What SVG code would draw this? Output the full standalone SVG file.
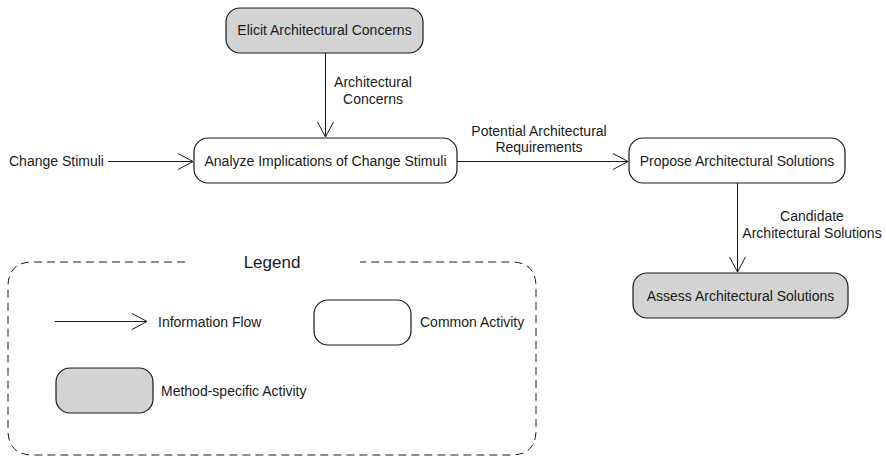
<svg xmlns="http://www.w3.org/2000/svg" width="886" height="456" viewBox="0 0 886 456">
<defs>
<style>
.node{stroke:#1a1a1a;stroke-width:1.2;}
.common{fill:#ffffff;}
.method{fill:#d3d3d3;}
.t{font-family:"Liberation Sans",Arial,sans-serif;font-size:14px;fill:#1a1a1a;}
.c{text-anchor:middle;}
.edge{stroke:#1a1a1a;stroke-width:1;fill:none;}
</style>
<marker id="arr" markerUnits="userSpaceOnUse" markerWidth="18" markerHeight="18" viewBox="0 0 18 18" refX="16" refY="9" orient="auto">
<path d="M1,1 L16,9 L1,17" fill="none" stroke="#1a1a1a" stroke-width="1"/>
</marker>
</defs>
<rect width="886" height="456" fill="#ffffff"/>

<g id="connectors">
<line class="edge" x1="325.5" y1="53" x2="325.5" y2="137" marker-end="url(#arr)"/>
<line class="edge" x1="108" y1="161.5" x2="193" y2="161.5" marker-end="url(#arr)"/>
<line class="edge" x1="457" y1="161.5" x2="628" y2="161.5" marker-end="url(#arr)"/>
<line class="edge" x1="737.5" y1="183" x2="737.5" y2="272" marker-end="url(#arr)"/>
<text class="t c" x="373" y="87">Architectural</text>
<text class="t c" x="373" y="104">Concerns</text>
<text class="t c" x="539" y="136">Potential Architectural</text>
<text class="t c" x="539" y="152">Requirements</text>
<text class="t c" x="812" y="221">Candidate</text>
<text class="t c" x="812" y="238">Architectural Solutions</text>
</g>

<g id="change-stimuli">
<text class="t" x="9" y="166">Change Stimuli</text>
</g>

<g id="elicit">
<rect class="node method" x="226" y="8" width="197" height="45" rx="14"/>
<text class="t c" x="324.5" y="35">Elicit Architectural Concerns</text>
</g>

<g id="analyze">
<rect class="node common" x="194" y="138" width="263" height="45" rx="14"/>
<text class="t c" x="325.5" y="166">Analyze Implications of Change Stimuli</text>
</g>

<g id="propose">
<rect class="node common" x="629" y="138" width="216" height="45" rx="14"/>
<text class="t c" x="737" y="166">Propose Architectural Solutions</text>
</g>

<g id="assess">
<rect class="node method" x="633" y="273" width="215" height="45" rx="14"/>
<text class="t c" x="740.5" y="301">Assess Architectural Solutions</text>
</g>

<g id="legend">
<path d="M185,262 L33,262 Q8,262 8,287 L8,430 Q8,455 33,455 L511,455 Q536,455 536,430 L536,287 Q536,262 511,262 L360,262" fill="none" stroke="#1a1a1a" stroke-width="1" stroke-dasharray="8,5"/>
<text x="272" y="268" text-anchor="middle" style="font-family:'Liberation Sans',Arial,sans-serif;font-size:17px;fill:#1a1a1a">Legend</text>
<line class="edge" x1="55" y1="321.5" x2="147" y2="321.5" marker-end="url(#arr)"/>
<text class="t" x="158" y="327">Information Flow</text>
<rect class="node common" x="314" y="300" width="97" height="45" rx="14"/>
<text class="t" x="420" y="327">Common Activity</text>
<rect class="node method" x="56" y="368" width="97" height="45" rx="14"/>
<text class="t" x="161" y="396">Method-specific Activity</text>
</g>
</svg>
